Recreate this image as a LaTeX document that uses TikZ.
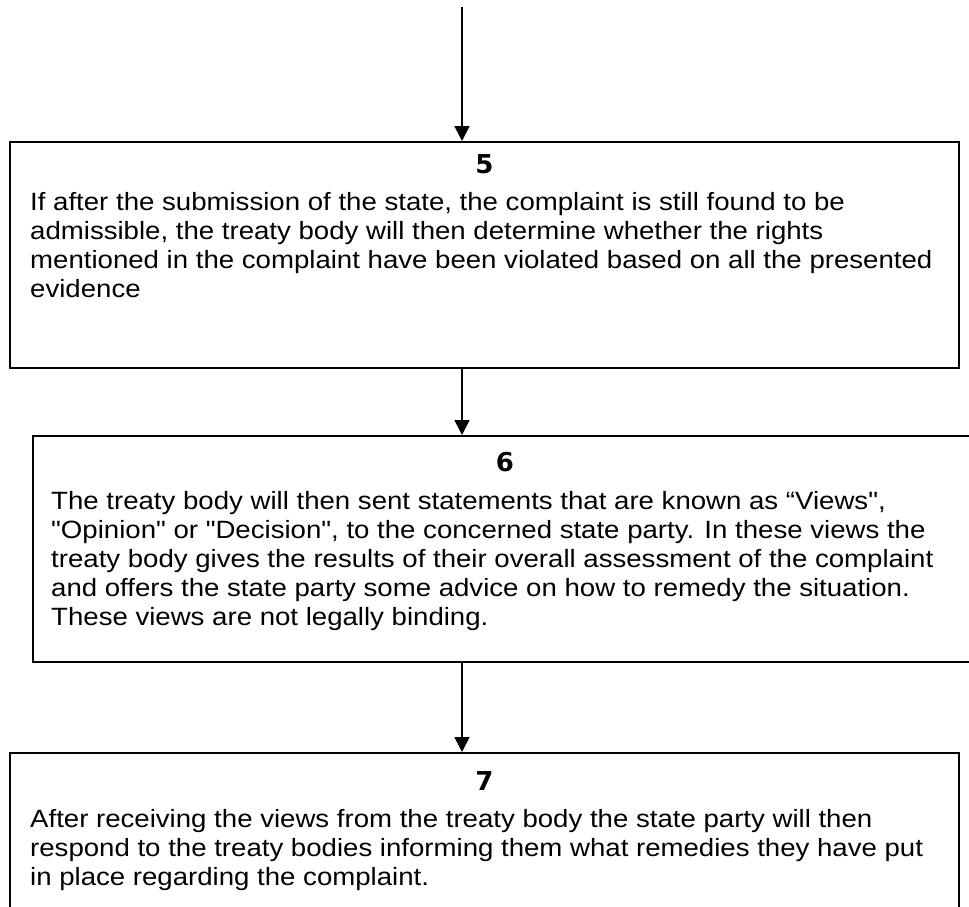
\documentclass[tikz,border=0pt]{standalone}
\usepackage{fontspec}
\setmainfont{Liberation Sans}
\newfontfamily\numfont{DejaVu Sans}
\newfontfamily\bodyfam{Liberation Sans}[FakeStretch=1.104]
\usetikzlibrary{arrows.meta,calc}
\begin{document}
\begin{tikzpicture}[x=1pt,y=-1pt,
  stepbox/.style={draw,line width=2pt,rectangle,inner sep=0pt},
  flow/.style={line width=1.6pt,-{Triangle[width=15pt,length=15pt]}},
  numtext/.style={font=\numfont\bfseries\fontsize{26}{29}\selectfont,inner sep=0pt,anchor=base},
  bodytext/.style={font=\bodyfam\fontsize{25}{29}\selectfont,align=left,inner sep=0pt,anchor=base west}]
\useasboundingbox (0,0) rectangle (969,907);
\clip (0,0) rectangle (969,907);
\node[stepbox,minimum width=949pt,minimum height=226pt] (box5) at (484.5,255) {};
\node[stepbox,minimum width=944pt,minimum height=226pt] (box6) at (505,549) {};
\node[stepbox,minimum width=949pt,minimum height=226pt] (box7) at (484.5,866) {};
\coordinate (top) at (462,7);
\node[numtext] (n5) at ($(box5.north)+(0,32)$) {5};
% anchor is the baseline of the last line
\node[bodytext] (t5) at ($(box5.north west)+(21,156)$) {If after the submission of the state, the complaint is still found to be\\admissible, the treaty body will then determine whether the rights\\mentioned in the complaint have been violated based on all the presented\\evidence};
\node[numtext] (n6) at ($(box6.north)+(0,36)$) {6};
\node[bodytext] (t6) at ($(box6.north west)+(19,190)$) {The treaty body will then sent statements that are known as “Views",\\"Opinion" or "Decision", to the concerned state party. In these views the\\treaty body gives the results of their overall assessment of the complaint\\and offers the state party some advice on how to remedy the situation.\\These views are not legally binding.};
\node[numtext] (n7) at ($(box7.north)+(0,38)$) {7};
\node[bodytext] (t7) at ($(box7.north west)+(21,133)$) {After receiving the views from the treaty body the state party will then\\respond to the treaty bodies informing them what remedies they have put\\in place regarding the complaint.};
\draw[flow] (top) -- (top |- box5.north);
\draw[flow] (box5.south -| top) -- (box6.north -| top);
\draw[flow] (box6.south -| top) -- (box7.north -| top);
\end{tikzpicture}
\end{document}
